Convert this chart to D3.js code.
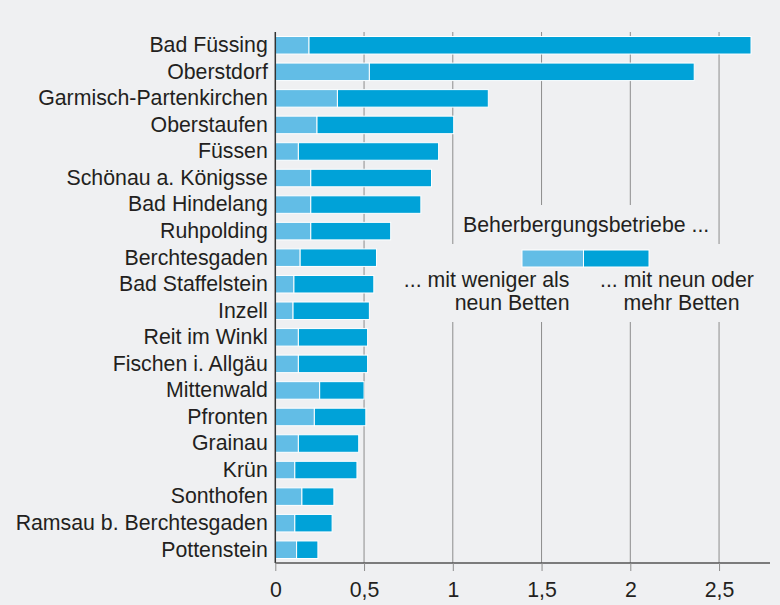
<!DOCTYPE html>
<html>
<head>
<meta charset="utf-8">
<script src="https://cdn.jsdelivr.net/npm/d3@7"></script>
<style>
  body { margin: 0; background: #eff0f2; }
  svg { display: block; font-family: "Liberation Sans", Arial, sans-serif; }
</style>
</head>
<body>
<svg id="chart"></svg>
<script>
const places = [
  "Bad Füssing", "Oberstdorf", "Garmisch-Partenkirchen", "Oberstaufen", "Füssen",
  "Schönau a. Königsse", "Bad Hindelang", "Ruhpolding", "Berchtesgaden", "Bad Staffelstein",
  "Inzell", "Reit im Winkl", "Fischen i. Allgäu", "Mittenwald", "Pfronten",
  "Grainau", "Krün", "Sonthofen", "Ramsau b. Berchtesgaden", "Pottenstein"
];
// Beherbergungsbetriebe mit weniger als neun Betten
const small = [0.19, 0.53, 0.35, 0.235, 0.13, 0.20, 0.20, 0.20, 0.14, 0.105,
               0.10, 0.13, 0.13, 0.25, 0.22, 0.13, 0.11, 0.15, 0.11, 0.12];
// ... mit neun oder mehr Betten
const large = [2.49, 1.83, 0.85, 0.77, 0.79, 0.68, 0.62, 0.45, 0.43, 0.45,
               0.43, 0.39, 0.39, 0.25, 0.29, 0.34, 0.35, 0.18, 0.21, 0.12];
const xTicks = [0, 0.5, 1, 1.5, 2, 2.5];
const legendTitle = "Beherbergungsbetriebe ...";
const legendSmall = ["... mit weniger als", "neun Betten"];
const legendLarge = ["... mit neun oder", "mehr Betten"];

const width = 780, height = 605;
const colSmall = "#62bde6", colLarge = "#00a2d8";
const bg = "#eff0f2", ink = "#231f20";
const fontSize = "21.3px";

const svg = d3.select("#chart").attr("width", width).attr("height", height);
svg.append("rect").attr("width", width).attr("height", height).attr("fill", bg);

const x = d3.scaleLinear().domain([0, 2.787]).range([275.3, 770]);
const y = d3.scaleBand().domain(places).range([32, 563])
  .paddingInner(0.34).paddingOuter(0.17);

const data = places.map((p, i) => ({ place: p, small: small[i], large: large[i] }));
const stack = d3.stack().keys(["small", "large"])(data);
const color = d3.scaleOrdinal().domain(["small", "large"]).range([colSmall, colLarge]);

// gridlines
svg.append("g")
  .selectAll("line")
  .data(xTicks.slice(1))
  .join("line")
  .attr("x1", d => x(d)).attr("x2", d => x(d))
  .attr("y1", 32).attr("y2", 563)
  .attr("stroke", "#8c8c8c").attr("stroke-width", 1);

// bars
svg.append("g")
  .selectAll("g")
  .data(stack)
  .join("g")
  .attr("fill", d => color(d.key))
  .selectAll("rect")
  .data(d => d)
  .join("rect")
  .attr("x", d => x(d[0]))
  .attr("width", d => x(d[1]) - x(d[0]))
  .attr("y", d => y(d.data.place))
  .attr("height", y.bandwidth())
  .attr("stroke", "#fff").attr("stroke-width", 1);

// legend: background patches hide the gridlines
svg.append("rect").attr("x", 458).attr("y", 205).attr("width", 258).attr("height", 40).attr("fill", bg);
svg.append("rect").attr("x", 398).attr("y", 244).attr("width", 367).attr("height", 78).attr("fill", bg);

const lg = svg.append("g").attr("fill", ink).style("font-size", fontSize);
lg.append("text").attr("x", 463).attr("y", 232).text(legendTitle);
const lx = d3.scaleLinear().domain([0, 1]).range([522, 583.5]);
lg.append("rect").attr("x", lx(0)).attr("y", 250).attr("width", lx(1) - lx(0)).attr("height", 17)
  .attr("fill", colSmall).attr("stroke", "#fff");
lg.append("rect").attr("x", lx(1)).attr("y", 250).attr("width", 649 - lx(1)).attr("height", 17)
  .attr("fill", colLarge).attr("stroke", "#fff");
lg.append("g").attr("text-anchor", "end")
  .selectAll("text").data(legendSmall).join("text")
  .attr("x", 569.5).attr("y", (d, i) => 287 + i * 23).text(d => d);
lg.append("text").attr("x", 600).attr("y", 287).text(legendLarge[0]);
lg.append("text").attr("x", 623.5).attr("y", 310).text(legendLarge[1]);

// y axis
const yAxis = svg.append("g").attr("transform", "translate(275.3,0)")
  .call(d3.axisLeft(y).tickSize(0).tickPadding(7.5));
yAxis.select(".domain").attr("stroke", "#333").attr("stroke-width", 1.5).attr("d", "M0,32V563");
yAxis.selectAll("text").attr("fill", ink).style("font-size", fontSize)
  .style("font-family", "'Liberation Sans', Arial, sans-serif");

// x axis
const fmt = d3.formatLocale({ decimal: ",", thousands: ".", grouping: [3], currency: ["", " €"] }).format("~g");
const xAxis = svg.append("g").attr("transform", "translate(0,563)")
  .call(d3.axisBottom(x).tickValues(xTicks).tickFormat(fmt).tickSize(8).tickPadding(11));
xAxis.select(".domain").attr("stroke", "#555").attr("stroke-width", 1.5).attr("d", "M275.3,0H770");
xAxis.selectAll(".tick line").attr("stroke", "#8c8c8c");
xAxis.selectAll("text").attr("fill", ink).style("font-size", fontSize)
  .style("font-family", "'Liberation Sans', Arial, sans-serif");
</script>
</body>
</html>
